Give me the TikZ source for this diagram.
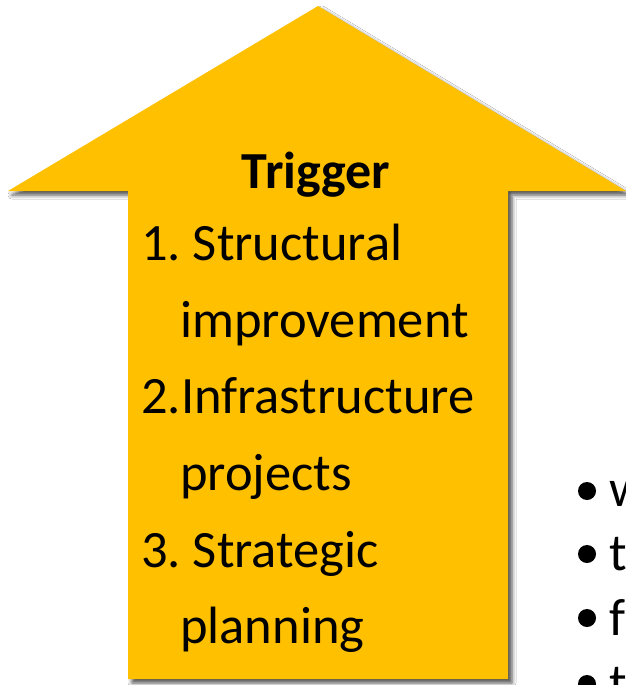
\documentclass[tikz,border=0pt]{standalone}
\usepackage{fontspec}
\setmainfont{Carlito}
\usetikzlibrary{shadows.blur}
\definecolor{arrowgold}{HTML}{FFC000}
\frenchspacing
\begin{document}
\begin{tikzpicture}[x=1pt,y=-1pt,
  itemtext/.style={anchor=base west,inner sep=0pt,font=\fontsize{52.5}{62}\selectfont},
  titletext/.style={anchor=base,inner sep=0pt,font=\fontsize{52}{62}\selectfont\bfseries},
  bulletdot/.style={circle,fill=black,draw=none,inner sep=0pt,outer sep=0pt,minimum size=18pt}]
\useasboundingbox (0,0) rectangle (626,685);
\clip (0,0) rectangle (626,685);
\fill[white] (0,0) rectangle (626,685);
% big arrow
\fill[arrowgold, blur shadow={shadow xshift=4pt,shadow yshift=-4pt,shadow blur radius=4pt,shadow opacity=70}]
  (318,6) -- (626,191) -- (508,191) -- (508,679) -- (128,679) -- (128,191) -- (8,191) -- cycle;
% texts
\node[titletext] (title) at (316,188) {Trigger};
\node[itemtext] (i1) at (141,260) {1. Structural};
\node[itemtext] (i1b) at (180,337) {improvement};
\node[itemtext] (i2) at (141,413) {2.Infrastructure};
\node[itemtext] (i2b) at (180,490) {projects};
\node[itemtext] (i3) at (141,567) {3. Strategic};
\node[itemtext] (i3b) at (180,643) {planning};
% right bullets (cut off)
\node[bulletdot] (b1) at (587,491) {};
\node[bulletdot] (b2) at (587,554) {};
\node[bulletdot] (b3) at (587,618) {};
\node[bulletdot] (b4) at (587,684) {};
\node[itemtext] (r1) at (609,506) {w};
\node[itemtext] (r2) at (609,570) {t};
\node[itemtext] (r3) at (609,635) {f};
\node[itemtext] (r4) at (609,700) {t};
\end{tikzpicture}
\end{document}
